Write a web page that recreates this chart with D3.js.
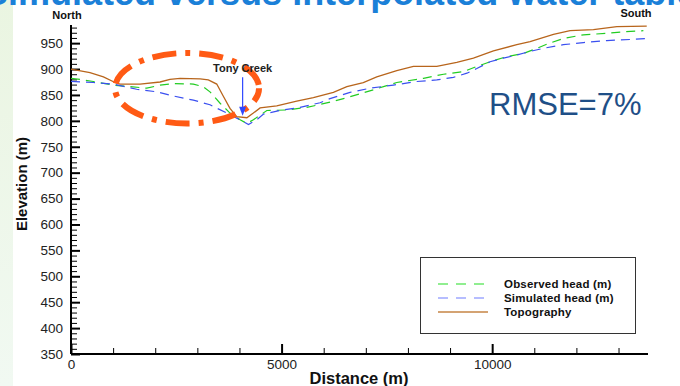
<!DOCTYPE html>
<html>
<head>
<meta charset="utf-8">
<script src="https://cdn.jsdelivr.net/npm/d3@7/dist/d3.min.js"></script>
<style>
  html, body { margin: 0; padding: 0; background: #ffffff; }
  svg { display: block; font-family: "Liberation Sans", Arial, Helvetica, sans-serif; }
</style>
</head>
<body>
<svg id="chart" width="680" height="386"></svg>
<script>
// Cross-section North -> South: distance (m) and elevation (m)
const topoDist = [0, 450, 770, 1045, 1165, 1640, 2115, 2350, 2590, 3065, 3260, 3460, 3620, 3775, 3935, 4175, 4330, 4490, 4885, 5360, 5755, 6230, 6550, 6940, 7260, 7735, 8130, 8685, 9160, 9555, 10030, 10585, 10900, 11455, 11850, 12405, 12960, 13670];
const topoElev = [900, 893, 885, 874, 871, 871, 875, 880, 882, 881, 879, 871, 847, 824, 808, 806, 815, 825, 829, 838, 845, 855, 866, 874, 885, 897, 905, 905, 913, 921, 935, 947, 953, 967, 974, 976, 982, 983];

const obsDist = [0, 214, 530, 1000, 1400, 1800, 2115, 2430, 2905, 3140, 3300, 3540, 3775, 4015, 4175, 4330, 4490, 4650, 5120, 5600, 6150, 6470, 6940, 7420, 7735, 8370, 8845, 9320, 9635, 9950, 10350, 10745, 11060, 11300, 11690, 12165, 12720, 13115, 13590];
const obsElev = [882, 880, 876, 869, 866, 863, 869, 872, 871, 866, 856, 834, 815, 802, 795, 802, 811, 820, 821, 826, 836, 843, 854, 866, 874, 882, 890, 895, 905, 914, 924, 930, 940, 948, 959, 966, 969, 972, 974];

const simDist = [0, 530, 1000, 1560, 2035, 2430, 2905, 3300, 3700, 4015, 4215, 4410, 4570, 4965, 5440, 5915, 6150, 6625, 7100, 7655, 8210, 8685, 9080, 9400, 9635, 9950, 10265, 10585, 10900, 11215, 11690, 12165, 12720, 13275, 13670];
const simElev = [876, 874, 871, 861, 856, 848, 840, 831, 815, 802, 793, 802, 813, 820, 826, 835, 843, 855, 863, 869, 876, 879, 884, 892, 901, 914, 921, 927, 934, 940, 947, 951, 955, 957, 959];

const xMajorTicks = [0, 5000, 10000];
const xMinorTicks = [1000, 2000, 3000, 4000, 6000, 7000, 8000, 9000, 11000, 12000, 13000];
const yMajorTicks = [350, 400, 450, 500, 550, 600, 650, 700, 750, 800, 850, 900, 950];
const yMinorTicks = d3.range(350, 981, 10).filter(v => v % 50 !== 0);

const seriesNames = ["Observed head (m)", "Simulated head (m)", "Topography"];

// Annotation anchors in data units
const creekDist = 4075, creekTopElev = 884, creekTipElev = 810;
const ringCenter = [2755, 863], ringRadius = [1710, 68];

const svg = d3.select("#chart");

// soft green strip on the left edge
const defs = svg.append("defs");
const grad = defs.append("linearGradient").attr("id", "edge").attr("x1", 0).attr("y1", 0).attr("x2", 0).attr("y2", 1);
grad.append("stop").attr("offset", "0%").attr("stop-color", "#eaf5e1");
grad.append("stop").attr("offset", "100%").attr("stop-color", "#f1f9f2");
svg.append("rect").attr("x", 0).attr("y", 0).attr("width", 13).attr("height", 386).attr("fill", "url(#edge)");

// slide heading, cut by the top edge
svg.append("text").attr("x", -16).attr("y", 5)
  .attr("font-size", 36).attr("font-weight", "bold").attr("fill", "#1b80d8")
  .text("Simulated versus interpolated water table");

const x = d3.scaleLinear().domain([0, 13700]).range([71, 648]);
const y = d3.scaleLinear().domain([350, 985]).range([354, 25]);

const gx = svg.append("g").attr("transform", `translate(0,${y(350)})`);
const gy = svg.append("g").attr("transform", `translate(${x(0)},0)`);

// inward minor ticks
gx.call(d3.axisTop(x).tickValues(xMinorTicks).tickSize(6).tickFormat(""));
gy.call(d3.axisRight(y).tickValues(yMinorTicks).tickSize(6).tickFormat(""));
gx.selectAll(".tick line").attr("stroke-width", 1);
gy.selectAll(".tick line").attr("stroke-width", 1);

// major ticks with labels outside
const gxM = svg.append("g").attr("transform", `translate(0,${y(350)})`)
  .call(d3.axisTop(x).tickValues(xMajorTicks).tickSize(10).tickFormat(d3.format("d")));
gxM.selectAll(".tick line").attr("stroke-width", 2);
gxM.selectAll(".tick text").attr("y", 15).attr("dy", "0").attr("font-size", 13.5).attr("fill", "#222").attr("font-family", null);

const gyM = svg.append("g").attr("transform", `translate(${x(0)},0)`)
  .call(d3.axisRight(y).tickValues(yMajorTicks).tickSize(9).tickFormat(d3.format("d")));
gyM.selectAll(".tick line").attr("stroke-width", 2);
gyM.selectAll(".tick text").attr("x", -8).attr("text-anchor", "end").attr("font-size", 13.5).attr("fill", "#222").attr("font-family", null);

[gx, gy, gxM, gyM].forEach(g => g.select(".domain").remove());

// axis lines
svg.append("line").attr("x1", x(0)).attr("x2", x(13700)).attr("y1", y(350)).attr("y2", y(350)).attr("stroke", "#000").attr("stroke-width", 2);
svg.append("line").attr("x1", x(0)).attr("x2", x(0)).attr("y1", y(350)).attr("y2", y(985)).attr("stroke", "#000").attr("stroke-width", 2);

svg.append("text").attr("x", 359).attr("y", 384).attr("text-anchor", "middle")
  .attr("font-size", 16.5).attr("font-weight", "bold").attr("fill", "#111").text("Distance (m)");
svg.append("text").attr("transform", "translate(27,184) rotate(-90)").attr("text-anchor", "middle")
  .attr("font-size", 15).attr("font-weight", "bold").attr("fill", "#111").text("Elevation (m)");

svg.append("text").attr("x", 67).attr("y", 19).attr("text-anchor", "middle")
  .attr("font-size", 11).attr("font-weight", "bold").attr("fill", "#111").text("North");
svg.append("text").attr("x", 636).attr("y", 17).attr("text-anchor", "middle")
  .attr("font-size", 11).attr("font-weight", "bold").attr("fill", "#111").text("South");

const line = d3.line().x(d => x(d[0])).y(d => y(d[1]));
const series = [
  { pts: d3.zip(obsDist, obsElev), color: "#22cc22", dash: "9,6", width: 1.2 },
  { pts: d3.zip(simDist, simElev), color: "#3a4ff0", dash: "9,6", width: 1.2 },
  { pts: d3.zip(topoDist, topoElev), color: "#b8651c", dash: null, width: 1.3 }
];
series.forEach(s => {
  svg.append("path").datum(s.pts).attr("d", line).attr("fill", "none")
    .attr("stroke", s.color).attr("stroke-width", s.width)
    .attr("stroke-dasharray", s.dash);
});

// dash-dot ring around the depression
svg.append("ellipse")
  .attr("cx", x(ringCenter[0])).attr("cy", y(ringCenter[1]))
  .attr("rx", x(ringRadius[0]) - x(0)).attr("ry", y(350) - y(350 + ringRadius[1]))
  .attr("fill", "none").attr("stroke", "#ff5a14").attr("stroke-width", 6)
  .attr("stroke-dasharray", "24,9,5,9").attr("stroke-dashoffset", 10);

// Tony Creek marker
const ax = x(creekDist);
svg.append("line").attr("x1", ax).attr("x2", ax).attr("y1", y(creekTopElev)).attr("y2", y(creekTipElev) - 7)
  .attr("stroke", "#3048ff").attr("stroke-width", 1.2);
svg.append("path")
  .attr("d", `M${ax - 3.5},${y(creekTipElev) - 9} L${ax + 3.5},${y(creekTipElev) - 9} L${ax},${y(creekTipElev)} Z`)
  .attr("fill", "#3048ff");
svg.append("text").attr("x", ax).attr("y", y(creekTopElev) - 5).attr("text-anchor", "middle")
  .attr("font-size", 11).attr("font-weight", "bold").attr("fill", "#222").text("Tony Creek");

svg.append("text").attr("x", 489).attr("y", 115).attr("font-size", 31).attr("fill", "#1f4f87").text("RMSE=7%");

// legend
const lg = svg.append("g");
lg.append("rect").attr("x", 420.5).attr("y", 257.5).attr("width", 215).attr("height", 76)
  .attr("fill", "#fff").attr("stroke", "#333").attr("stroke-width", 1);
const legendStyle = [
  { color: "#22dd22", dash: "10,8", width: 1.2, opacity: 1 },
  { color: "#6f7cff", dash: "10,8", width: 1.2, opacity: 1 },
  { color: "#d4a373", dash: null, width: 2, opacity: 1 }
];
seriesNames.forEach((name, i) => {
  const yy = 284 + i * 14;
  lg.append("line").attr("x1", 438).attr("x2", 488).attr("y1", yy).attr("y2", yy)
    .attr("stroke", legendStyle[i].color).attr("stroke-width", legendStyle[i].width)
    .attr("stroke-dasharray", legendStyle[i].dash).attr("stroke-opacity", legendStyle[i].opacity);
  lg.append("text").attr("x", 504).attr("y", yy + 4).attr("font-size", 11.5).attr("font-weight", "bold")
    .attr("letter-spacing", 0.2).attr("fill", "#111").text(name);
});
</script>
</body>
</html>
